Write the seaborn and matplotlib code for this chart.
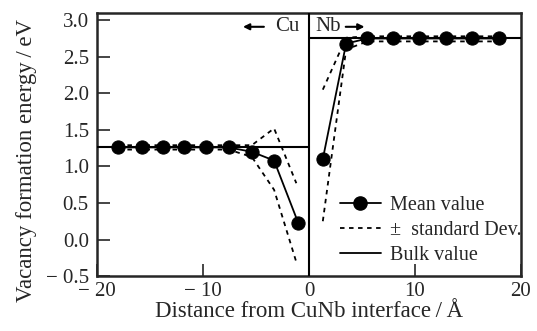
import matplotlib
matplotlib.use("Agg")
import matplotlib.pyplot as plt
from matplotlib.lines import Line2D
import pandas as pd
import seaborn as sns

# mean vacancy formation energy, Cu side and Nb side
cu_x = [-18.0, -15.8, -13.8, -11.8, -9.7, -7.6, -5.4, -3.3, -1.0]
cu_mean = [1.26, 1.26, 1.26, 1.26, 1.26, 1.26, 1.20, 1.08, 0.22]
nb_x = [1.3, 3.5, 5.5, 7.9, 10.4, 12.9, 15.4, 17.9]
nb_mean = [1.10, 2.68, 2.75, 2.75, 2.75, 2.75, 2.75, 2.75]

# +/- standard deviation envelopes
cu_sd_x = [-18.0, -7.6, -5.4, -3.3, -1.2]
cu_sd_upper = [1.29, 1.29, 1.29, 1.52, 0.77]
cu_sd_lower = [1.23, 1.23, 1.13, 0.68, -0.31]
nb_sd_x = [1.3, 3.5, 5.5, 17.9]
nb_sd_upper = [2.05, 2.76, 2.78, 2.78]
nb_sd_lower = [0.25, 2.60, 2.71, 2.71]

# bulk values
cu_bulk = 1.27
nb_bulk = 2.75

x_ticks = [-20, -10, 0, 10, 20]
x_ticklabels = ["\u2212 20", "\u2212 10", "0", "10", "20"]
y_ticks = [-0.5, 0.0, 0.5, 1.0, 1.5, 2.0, 2.5, 3.0]
y_ticklabels = ["\u2212 0.5", "0.0", "0.5", "1.0", "1.5", "2.0", "2.5", "3.0"]

sns.set_style("ticks")
plt.rcParams["font.family"] = ["Liberation Serif", "DejaVu Serif"]

fig = plt.figure(figsize=(5.37, 3.31), dpi=100)
ax = fig.add_axes([0.181, 0.166, 0.789, 0.795])

cu_df = pd.DataFrame({"x": cu_x, "y": cu_mean})
nb_df = pd.DataFrame({"x": nb_x, "y": nb_mean})

dash = (0, (2.5, 2.5))
# std dev dashed
for xs, ys in [(cu_sd_x, cu_sd_upper), (cu_sd_x, cu_sd_lower),
               (nb_sd_x, nb_sd_upper), (nb_sd_x, nb_sd_lower)]:
    ax.plot(xs, ys, color="black", lw=1.3, ls=dash, zorder=2)

# bulk lines
ax.plot([-20, 0], [cu_bulk, cu_bulk], color="black", lw=1.5, zorder=3)
ax.plot([0, 20], [nb_bulk, nb_bulk], color="black", lw=1.5, zorder=3)
ax.axvline(0, color="black", lw=1.5, zorder=3)

sns.lineplot(data=cu_df, x="x", y="y", ax=ax, color="black", lw=1.3,
             marker="o", markersize=9.5, markeredgecolor="black", zorder=4)
sns.lineplot(data=nb_df, x="x", y="y", ax=ax, color="black", lw=1.3,
             marker="o", markersize=9.5, markeredgecolor="black", zorder=4)

ax.set_xlim(-20, 20)
ax.set_ylim(-0.5, 3.1)
ax.set_xticks(x_ticks)
ax.set_xticklabels(x_ticklabels)
ax.set_yticks(y_ticks)
ax.set_yticklabels(y_ticklabels)
ax.tick_params(direction="in", length=9, width=1.2, labelsize=15)
ax.tick_params(axis="y", pad=6)
ax.tick_params(axis="x", pad=4)
for s in ax.spines.values():
    s.set_linewidth(1.8)

ax.set_xlabel("Distance from CuNb interface\u2009/\u2009\u00c5", fontsize=16.5, labelpad=0)
ax.set_ylabel("Vacancy formation energy\u2009/\u2009eV", fontsize=16.5)
ax.yaxis.set_label_coords(-0.143, 0.44)

ax.annotate("", xy=(-6.5, 2.91), xytext=(-4.0, 2.91),
            arrowprops=dict(arrowstyle="-|>", color="black", lw=1.5, mutation_scale=9))
ax.text(-3.2, 2.91, "Cu", fontsize=15, va="center", ha="left")
ax.text(0.6, 2.91, "Nb", fontsize=15, va="center", ha="left")
ax.annotate("", xy=(5.5, 2.91), xytext=(3.2, 2.91),
            arrowprops=dict(arrowstyle="-|>", color="black", lw=1.5, mutation_scale=9))

handles = [
    Line2D([], [], color="black", lw=1.3, marker="o", markersize=9.5),
    Line2D([], [], color="black", lw=1.3, ls=dash),
    Line2D([], [], color="black", lw=1.3),
]
ax.legend(handles, ["Mean value", "\u00b1  standard Dev.", "Bulk value"],
          loc="lower right", frameon=False, fontsize=14.5, handlelength=2.0,
          labelspacing=0.3, borderaxespad=0.0, handletextpad=0.45,
          bbox_to_anchor=(1.02, 0.012))

fig.savefig("out.png", dpi=100)
